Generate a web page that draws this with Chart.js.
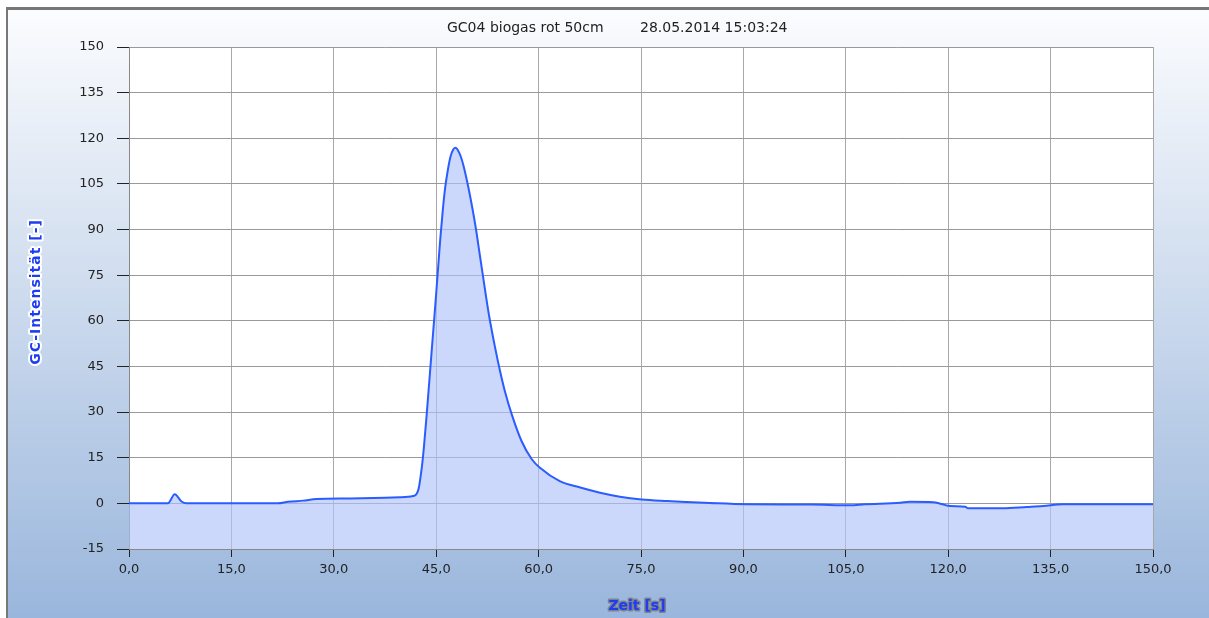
<!DOCTYPE html>
<html>
<head>
<meta charset="utf-8">
<script src="https://cdn.jsdelivr.net/npm/chart.js@4"></script>
<style>
  html, body { margin: 0; padding: 0; background: #fff; }
  #wrap { width: 1209px; height: 618px; }
</style>
</head>
<body>
<div id="wrap"><canvas id="gcChart"></canvas></div>
<script>
// chromatogram values
const titleName = 'GC04 biogas rot 50cm';
const titleDate = '28.05.2014 15:03:24';
const xTitle = 'Zeit [s]';
const yTitle = 'GC-Intensität [-]';

const zeit = [0, 5.7, 6.7, 7.7, 8.4, 21.8, 23.3, 25.5, 27.5, 32.4,
  39.7, 41.6, 42.4, 42.9, 43.2, 43.6, 43.95, 44.3, 44.65, 45.0,
  45.3, 45.6, 45.95, 46.3, 46.7, 47.1, 47.5, 47.85, 48.2, 48.6,
  49.0, 49.7, 50.3, 50.8, 51.3, 51.8, 52.3, 52.8, 53.6, 54.3,
  55.1, 56.1, 57.5, 59.0, 60.2, 63.1, 66.1, 69.0, 71.9, 75.1,
  78.8, 81.7, 85.1, 90.5, 100, 105.6, 107.8, 113, 114.4, 117.8,
  119, 120.3, 122.5, 122.9, 128, 131.5, 133.9, 136.8, 150];
const intensitaet = [0, 0, 3.0, 0.6, 0, 0, 0.5, 0.9, 1.4, 1.6,
  2.0, 2.4, 4.6, 12, 18.5, 29, 39, 49, 59, 69,
  78, 87, 96, 103.5, 109.5, 114, 116.3, 116.9, 116, 114,
  111, 104, 97, 90.5, 83, 75.5, 68, 61, 51.5, 44,
  36.5, 29, 20.5, 14.5, 11.7, 7.3, 5.2, 3.5, 2.2, 1.3,
  0.77, 0.44, 0.1, -0.3, -0.4, -0.6, -0.3, 0.2, 0.5, 0.4,
  -0.2, -0.9, -1.1, -1.6, -1.6, -1.2, -0.9, -0.3, -0.3];

const xTicks = [0, 15, 30, 45, 60, 75, 90, 105, 120, 135, 150];
const yTicks = [-15, 0, 15, 30, 45, 60, 75, 90, 105, 120, 135, 150];

const points = zeit.map((t, i) => ({ x: t, y: intensitaet[i] }));

// background, frame, title and the outlined axis titles
const decor = {
  id: 'decor',
  beforeDraw(chart) {
    const c = chart.ctx, w = chart.width, h = chart.height, a = chart.chartArea;
    c.save();
    c.fillStyle = '#ffffff';
    c.fillRect(0, 0, w, h);
    const g = c.createLinearGradient(0, 10, 0, h);
    g.addColorStop(0, '#fbfcfe');
    g.addColorStop(1, '#9ab6dc');
    c.fillStyle = g;
    c.fillRect(7, 9, w - 7, h - 9);
    c.fillStyle = '#777';
    c.fillRect(6, 7, w - 6, 3);
    c.fillRect(6, 7, 2, h - 7);
    c.fillStyle = '#fff';
    c.fillRect(a.left, a.top, a.right - a.left, a.bottom - a.top);
    c.restore();
  },
  afterDraw(chart) {
    const c = chart.ctx, a = chart.chartArea;
    c.save();
    c.textAlign = 'left';
    c.textBaseline = 'middle';
    c.font = '14px "DejaVu Sans"';
    c.fillStyle = '#222';
    c.fillText(titleName, 447, 28);
    c.fillText(titleDate, 640, 28);

    c.textAlign = 'center';
    c.font = 'bold 14px "DejaVu Sans"';
    c.lineJoin = 'round';
    c.lineWidth = 3;
    c.strokeStyle = '#7c8290';
    c.fillStyle = '#1d3df2';
    c.strokeText(xTitle, 637, 606);
    c.fillText(xTitle, 637, 606);

    c.translate(36, (a.top + a.bottom) / 2 - 6);
    c.rotate(-Math.PI / 2);
    c.letterSpacing = '1px';
    c.strokeStyle = '#ffffff';
    c.lineWidth = 4;
    c.strokeText(yTitle, 0, 0);
    c.fillText(yTitle, 0, 0);
    c.restore();
  }
};

new Chart(document.getElementById('gcChart'), {
  type: 'line',
  data: {
    datasets: [{
      data: points,
      borderColor: '#2b5cff',
      backgroundColor: 'rgba(175, 195, 250, 0.65)',
      borderWidth: 2,
      fill: 'start',
      pointRadius: 0,
      cubicInterpolationMode: 'monotone'
    }]
  },
  options: {
    responsive: true,
    maintainAspectRatio: false,
    animation: false,
    layout: { padding: { left: 0, right: 56, top: 47, bottom: 0 } },
    plugins: {
      legend: { display: false },
      tooltip: { enabled: false }
    },
    scales: {
      x: {
        type: 'linear',
        min: 0,
        max: 150,
        afterFit(s) { s.height = 69; },
        afterBuildTicks(s) { s.ticks = xTicks.map(v => ({ value: v })); },
        ticks: {
          color: '#222',
          font: { family: 'DejaVu Sans', size: 13 },
          padding: 5,
          maxRotation: 0,
          callback: v => v.toFixed(1).replace('.', ',')
        },
        grid: { color: '#a8a8a8', tickColor: '#222', tickLength: 8 },
        border: { color: '#888' }
      },
      y: {
        min: -15,
        max: 150,
        afterFit(s) { s.width = 129; },
        afterBuildTicks(s) { s.ticks = yTicks.map(v => ({ value: v })); },
        ticks: {
          color: '#222',
          font: { family: 'DejaVu Sans', size: 13 },
          padding: 13
        },
        grid: { color: '#999', tickColor: '#222', tickLength: 12 },
        border: { color: '#888' }
      }
    }
  },
  plugins: [decor]
});
</script>
</body>
</html>
